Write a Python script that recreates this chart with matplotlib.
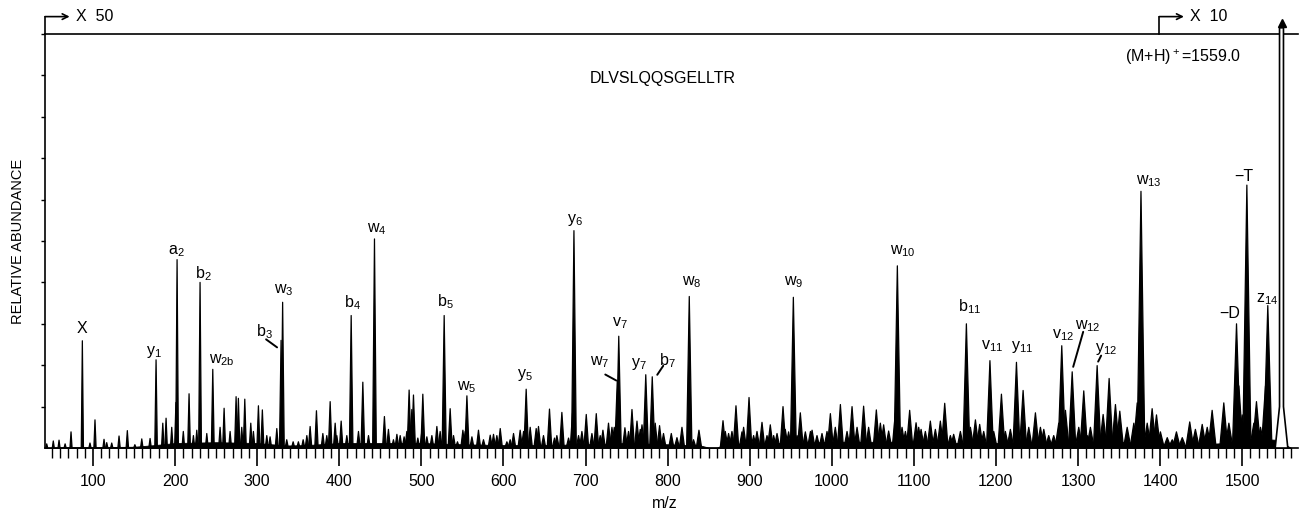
import matplotlib
matplotlib.use("Agg")
import matplotlib.pyplot as plt
from matplotlib.collections import PolyCollection
from matplotlib.ticker import MultipleLocator, FixedLocator, NullFormatter
import matplotlib.transforms as mtransforms
import numpy as np

plt.rcParams['font.family'] = ['Liberation Sans', 'DejaVu Sans']
plt.rcParams['mathtext.fontset'] = 'custom'
plt.rcParams['mathtext.rm'] = 'Liberation Sans'
plt.rcParams['mathtext.default'] = 'regular'

# main peak list: m/z and relative height (fraction of full scale)
mz = [51.6, 58.6, 73.2, 87.0, 102.4, 113.4, 116.7, 131.7, 141.8, 159.4, 169.5,
      176.8, 185.0, 189.0, 201.0, 202.4, 217.0, 226.4, 230.4, 245.9, 259.7,
      274.3, 277.1, 284.9, 292.2, 301.5, 306.3, 315.7, 323.9, 329.1, 331.0,
      343.8, 356.0, 364.5, 372.2, 380.0, 388.9, 395.0, 402.3, 414.5, 428.7,
      442.9, 455.0, 459.9, 470.2, 479.0, 485.1, 488.4, 490.4, 495.7, 501.8,
      506.7, 518.9, 527.8, 535.1, 544.0, 550.6, 555.5, 561.6, 569.6, 583.9,
      587.9, 596.1, 612.3, 620.4, 627.7, 639.9, 642.7, 656.1, 662.2, 671.2,
      679.3, 684.2, 685.9, 700.9, 713.1, 721.2, 728.0, 735.0, 738.7, 740.5,
      748.0, 756.6, 762.7, 768.8, 773.4, 781.3, 790.2, 804.5, 817.5, 826.4,
      838.2, 867.5, 874.3, 883.3, 890.6, 899.2, 904.8, 915.0, 925.1, 933.3,
      940.6, 947.4, 953.2, 961.7, 967.8, 976.0, 988.1, 998.3, 1010.5, 1024.7,
      1038.8, 1054.3, 1063.2, 1069.3, 1077.5, 1079.9, 1085.6, 1094.9, 1102.7,
      1108.8, 1120.1, 1132.3, 1137.6, 1148.5, 1164.0, 1175.0, 1180.2, 1192.7,
      1206.7, 1217.6, 1225.0, 1233.1, 1248.1, 1258.3, 1270.4, 1280.2, 1284.7,
      1292.9, 1307.0, 1311.2, 1323.3, 1330.6, 1337.9, 1345.6, 1350.9, 1372.1,
      1376.7, 1390.3, 1395.6, 1400.4, 1419.9, 1436.1, 1443.0, 1451.3, 1463.4,
      1477.6, 1493.1, 1505.7, 1517.4, 1531.2]
height = [0.017, 0.019, 0.039, 0.259, 0.068, 0.021, 0.013, 0.029, 0.042, 0.022, 0.023,
          0.213, 0.060, 0.072, 0.110, 0.455, 0.131, 0.043, 0.400, 0.190, 0.096,
          0.124, 0.120, 0.118, 0.060, 0.102, 0.092, 0.027, 0.047, 0.260, 0.352,
          0.015, 0.020, 0.052, 0.090, 0.035, 0.112, 0.060, 0.065, 0.320, 0.159,
          0.505, 0.076, 0.045, 0.033, 0.027, 0.140, 0.093, 0.128, 0.024, 0.130,
          0.027, 0.052, 0.320, 0.095, 0.015, 0.043, 0.126, 0.027, 0.043, 0.031,
          0.033, 0.047, 0.035, 0.043, 0.142, 0.047, 0.052, 0.094, 0.024, 0.086,
          0.024, 0.085, 0.525, 0.081, 0.083, 0.043, 0.060, 0.050, 0.163, 0.270,
          0.049, 0.093, 0.065, 0.056, 0.177, 0.172, 0.054, 0.035, 0.050, 0.366,
          0.043, 0.066, 0.035, 0.102, 0.039, 0.122, 0.030, 0.062, 0.056, 0.035,
          0.100, 0.039, 0.364, 0.085, 0.039, 0.043, 0.035, 0.083, 0.105, 0.100,
          0.101, 0.092, 0.056, 0.041, 0.085, 0.440, 0.050, 0.091, 0.061,
          0.045, 0.065, 0.065, 0.108, 0.033, 0.300, 0.068, 0.057, 0.211,
          0.130, 0.045, 0.207, 0.139, 0.085, 0.045, 0.030, 0.247, 0.091,
          0.184, 0.138, 0.030, 0.199, 0.081, 0.168, 0.105, 0.089, 0.109,
          0.620, 0.095, 0.080, 0.039, 0.039, 0.063, 0.045, 0.057, 0.091,
          0.109, 0.300, 0.635, 0.112, 0.344]

# smaller peaks of the background grass
minor_mz = [43.6, 66.0, 96.3, 122.8, 151.0, 195.9, 210.0, 222.3, 238.6, 254.8, 267.0,
            281.2, 295.4, 311.7, 336.0, 350.2, 360.5, 384.8, 397.0, 409.2, 423.4,
            435.6, 466.0, 474.2, 482.3, 500.6, 512.8, 522.9, 539.2, 553.4, 575.7,
            592.0, 604.2, 608.2, 624.5, 632.6, 648.8, 665.1, 691.5, 695.6, 707.8,
            717.9, 732.2, 752.4, 766.7, 784.9, 795.0, 811.4, 831.6, 870.3, 878.4,
            892.6, 908.9, 921.1, 929.2, 943.4, 957.7, 974.0, 982.0, 994.2, 1004.3,
            1018.6, 1030.8, 1044.9, 1059.2, 1089.7, 1105.9, 1114.0, 1126.2, 1144.5,
            1156.7, 1168.9, 1185.1, 1197.3, 1211.5, 1240.0, 1254.2, 1264.3, 1276.5,
            1300.9, 1315.1, 1359.9, 1368.0, 1384.3, 1408.7, 1414.8, 1427.0, 1457.4,
            1483.8, 1496.0, 1500.0, 1514.2, 1522.3, 1528.4]
minor_h = [0.010, 0.010, 0.012, 0.012, 0.008, 0.050, 0.040, 0.030, 0.035, 0.050, 0.040,
           0.050, 0.040, 0.030, 0.020, 0.015, 0.030, 0.030, 0.030, 0.030, 0.040,
           0.030, 0.020, 0.030, 0.040, 0.040, 0.030, 0.040, 0.030, 0.040, 0.020,
           0.030, 0.015, 0.020, 0.040, 0.050, 0.030, 0.030, 0.030, 0.040, 0.035,
           0.030, 0.050, 0.040, 0.045, 0.060, 0.035, 0.025, 0.020, 0.040, 0.040,
           0.050, 0.040, 0.030, 0.030, 0.045, 0.030, 0.040, 0.030, 0.040, 0.050,
           0.040, 0.050, 0.050, 0.060, 0.040, 0.050, 0.040, 0.045, 0.030,
           0.040, 0.050, 0.040, 0.040, 0.040, 0.050, 0.050, 0.030, 0.060,
           0.050, 0.050, 0.050, 0.060, 0.060, 0.025, 0.020, 0.025, 0.050,
           0.060, 0.150, 0.080, 0.060, 0.050, 0.150]

# low-level noise floor
floor_mz = [40, 60, 100, 150, 175, 200, 250, 300, 335, 360, 400, 450, 500, 550,
            600, 650, 700, 750, 800, 840, 850, 860, 870, 900, 950, 1000, 1050,
            1100, 1150, 1200, 1250, 1300, 1350, 1400, 1420, 1450, 1480, 1500,
            1520, 1540, 1560]
floor_h = [0.0, 0.002, 0.002, 0.003, 0.007, 0.012, 0.014, 0.012, 0.006, 0.007, 0.012,
           0.012, 0.012, 0.009, 0.007, 0.007, 0.009, 0.012, 0.009, 0.006, 0.001, 0.001,
           0.009, 0.012, 0.012, 0.015, 0.015, 0.015, 0.012, 0.012, 0.012, 0.012, 0.015,
           0.009, 0.006, 0.009, 0.012, 0.02, 0.022, 0.02, 0.0]

# molecular ion, off scale
parent_mz = 1547.9
parent_height = 1.015

# labelled fragments: text, m/z of peak
frag_text = ['X', 'y$_1$', 'a$_2$', 'b$_2$', 'w$_{2b}$', 'b$_3$', 'w$_3$', 'b$_4$', 'w$_4$',
             'b$_5$', 'w$_5$', 'y$_5$', 'y$_6$', 'w$_7$', 'v$_7$', 'y$_7$', 'b$_7$', 'w$_8$',
             'w$_9$', 'w$_{10}$', 'b$_{11}$', 'v$_{11}$', 'y$_{11}$', 'v$_{12}$', 'w$_{12}$',
             'y$_{12}$', 'w$_{13}$', '\u2212T', '\u2212D', 'z$_{14}$']
frag_mz = [87.0, 176.8, 202.4, 230.4, 245.9, 329.1, 331.0, 414.5, 442.9,
           527.8, 555.5, 627.7, 685.9, 738.7, 740.5, 773.4, 781.3, 826.4,
           953.2, 1079.9, 1164.0, 1192.7, 1225.0, 1280.2, 1292.9,
           1323.3, 1376.7, 1505.7, 1493.1, 1531.2]
# label offsets from peak top, pixels
frag_off = [(0, 12), (-2, 8), (-1, 8), (3, 9), (9, 9), (-17, 9), (1, 12), (1, 13), (2, 10),
            (1, 14), (0, 9), (-1, 14), (1, 11), (-18, 18), (1, 13), (-7, 11), (15, 16), (2, 14),
            (0, 15), (6, 15), (3, 17), (2, 14), (6, 15), (1, 11), (16, 46),
            (9, 17), (8, 10), (-3, 9), (-7, 10), (-1, 6)]
# leader lines: m/z of peak, start offset, end offset (pixels)
leaders = [(329.1, (-15, 1), (-4, -7)),
           (738.7, (-12, 6), (-1, 0)),
           (781.3, (11, 11), (5, 2)),
           (1292.9, (11, 40), (1, 5)),
           (1323.3, (4, 10), (1, 4))]

fig = plt.figure(figsize=(12.99, 5.15), dpi=100)
ax = fig.add_axes([45 / 1299, 67 / 515, 1253 / 1299, 414 / 515])
ax.set_xlim(41.5, 1568)
ax.set_ylim(0, 1)

ax.fill_between(floor_mz, 0, floor_h, color='black', lw=0.6)

verts = []
for m, h in zip(list(mz) + minor_mz, list(height) + minor_h):
    w = 1.1 + 0.0026 * m
    verts.append([(m - w, 0), (m, h), (m + w, 0)])
pc = PolyCollection(verts, facecolors='black', edgecolors='black', linewidths=0.9)
ax.add_collection(pc)

# off-scale parent peak drawn hollow
wp = 1.1 + 0.0026 * parent_mz
pv = [(parent_mz - 1.5 * wp, 0), (parent_mz - 2.4, 0.1), (parent_mz - 2.4, parent_height),
      (parent_mz + 2.4, parent_height), (parent_mz + 2.4, 0.1), (parent_mz + 1.5 * wp, 0)]
ax.fill([p[0] for p in pv], [p[1] for p in pv], facecolor='white', edgecolor='black',
        linewidth=1.2, clip_on=False, zorder=3)
ax.plot([parent_mz], [1.027], marker='^', color='black', markersize=6, clip_on=False)

hmap = dict(zip(mz, height))
for t, m, (dx, dy) in zip(frag_text, frag_mz, frag_off):
    ax.annotate(t, xy=(m, hmap[m]), xytext=(dx, dy), textcoords='offset pixels',
                ha='center', va='center', fontsize=11.5)

for m, (sx, sy), (ex, ey) in leaders:
    tr = mtransforms.offset_copy(ax.transData, fig=fig, x=ex, y=ey, units='dots')
    ax.annotate('', xy=(m, hmap[m]), xycoords=tr, xytext=(sx - ex, sy - ey),
                textcoords='offset pixels',
                arrowprops=dict(arrowstyle='-', lw=1.4, color='black', shrinkA=0, shrinkB=0))

# axes styling
ax.spines['right'].set_visible(False)
for s in ['left', 'top', 'bottom']:
    ax.spines[s].set_linewidth(1.2)
ax.xaxis.set_major_locator(FixedLocator(np.arange(100, 1600, 100)))
ax.xaxis.set_minor_locator(MultipleLocator(10))
ax.tick_params(axis='x', which='major', direction='out', length=13, width=1.2,
               labelsize=11.5, pad=6)
ax.tick_params(axis='x', which='minor', direction='out', length=7, width=1.0)
ax.yaxis.set_major_locator(FixedLocator(np.arange(0.1, 1.01, 0.1)))
ax.yaxis.set_major_formatter(NullFormatter())
ax.tick_params(axis='y', direction='out', length=3, width=1.0)

# magnification markers
btr = mtransforms.blended_transform_factory(ax.transData, ax.transAxes)
for x0, lbl in [(41.5, 'X  50'), (1399, 'X  10')]:
    ax.plot([x0, x0], [1.0, 1.042], color='black', lw=1.2, transform=btr, clip_on=False)
    ax.annotate('', xy=(x0 + 30, 1.042), xycoords=btr, xytext=(x0, 1.042), textcoords=btr,
                arrowprops=dict(arrowstyle='->', lw=1.2, color='black',
                                shrinkA=0, shrinkB=0))
    ax.text(x0 + 38, 1.042, lbl, transform=btr, ha='left', va='center', fontsize=11.5)

fig.text(1125 / 1299, 1 - 57 / 515, '(M+H)$^+$=1559.0', ha='left', va='center', fontsize=11.5)
fig.text(663 / 1299, 1 - 78 / 515, 'DLVSLQQSGELLTR', ha='center', va='center', fontsize=11.5)
fig.text(18 / 1299, 1 - 241 / 515, 'RELATIVE ABUNDANCE', rotation=90, ha='center',
         va='center', fontsize=10.5)
fig.text(665 / 1299, 1 - 503 / 515, 'm/z', ha='center', va='center', fontsize=11.5)

fig.savefig('out.png', dpi=100)
